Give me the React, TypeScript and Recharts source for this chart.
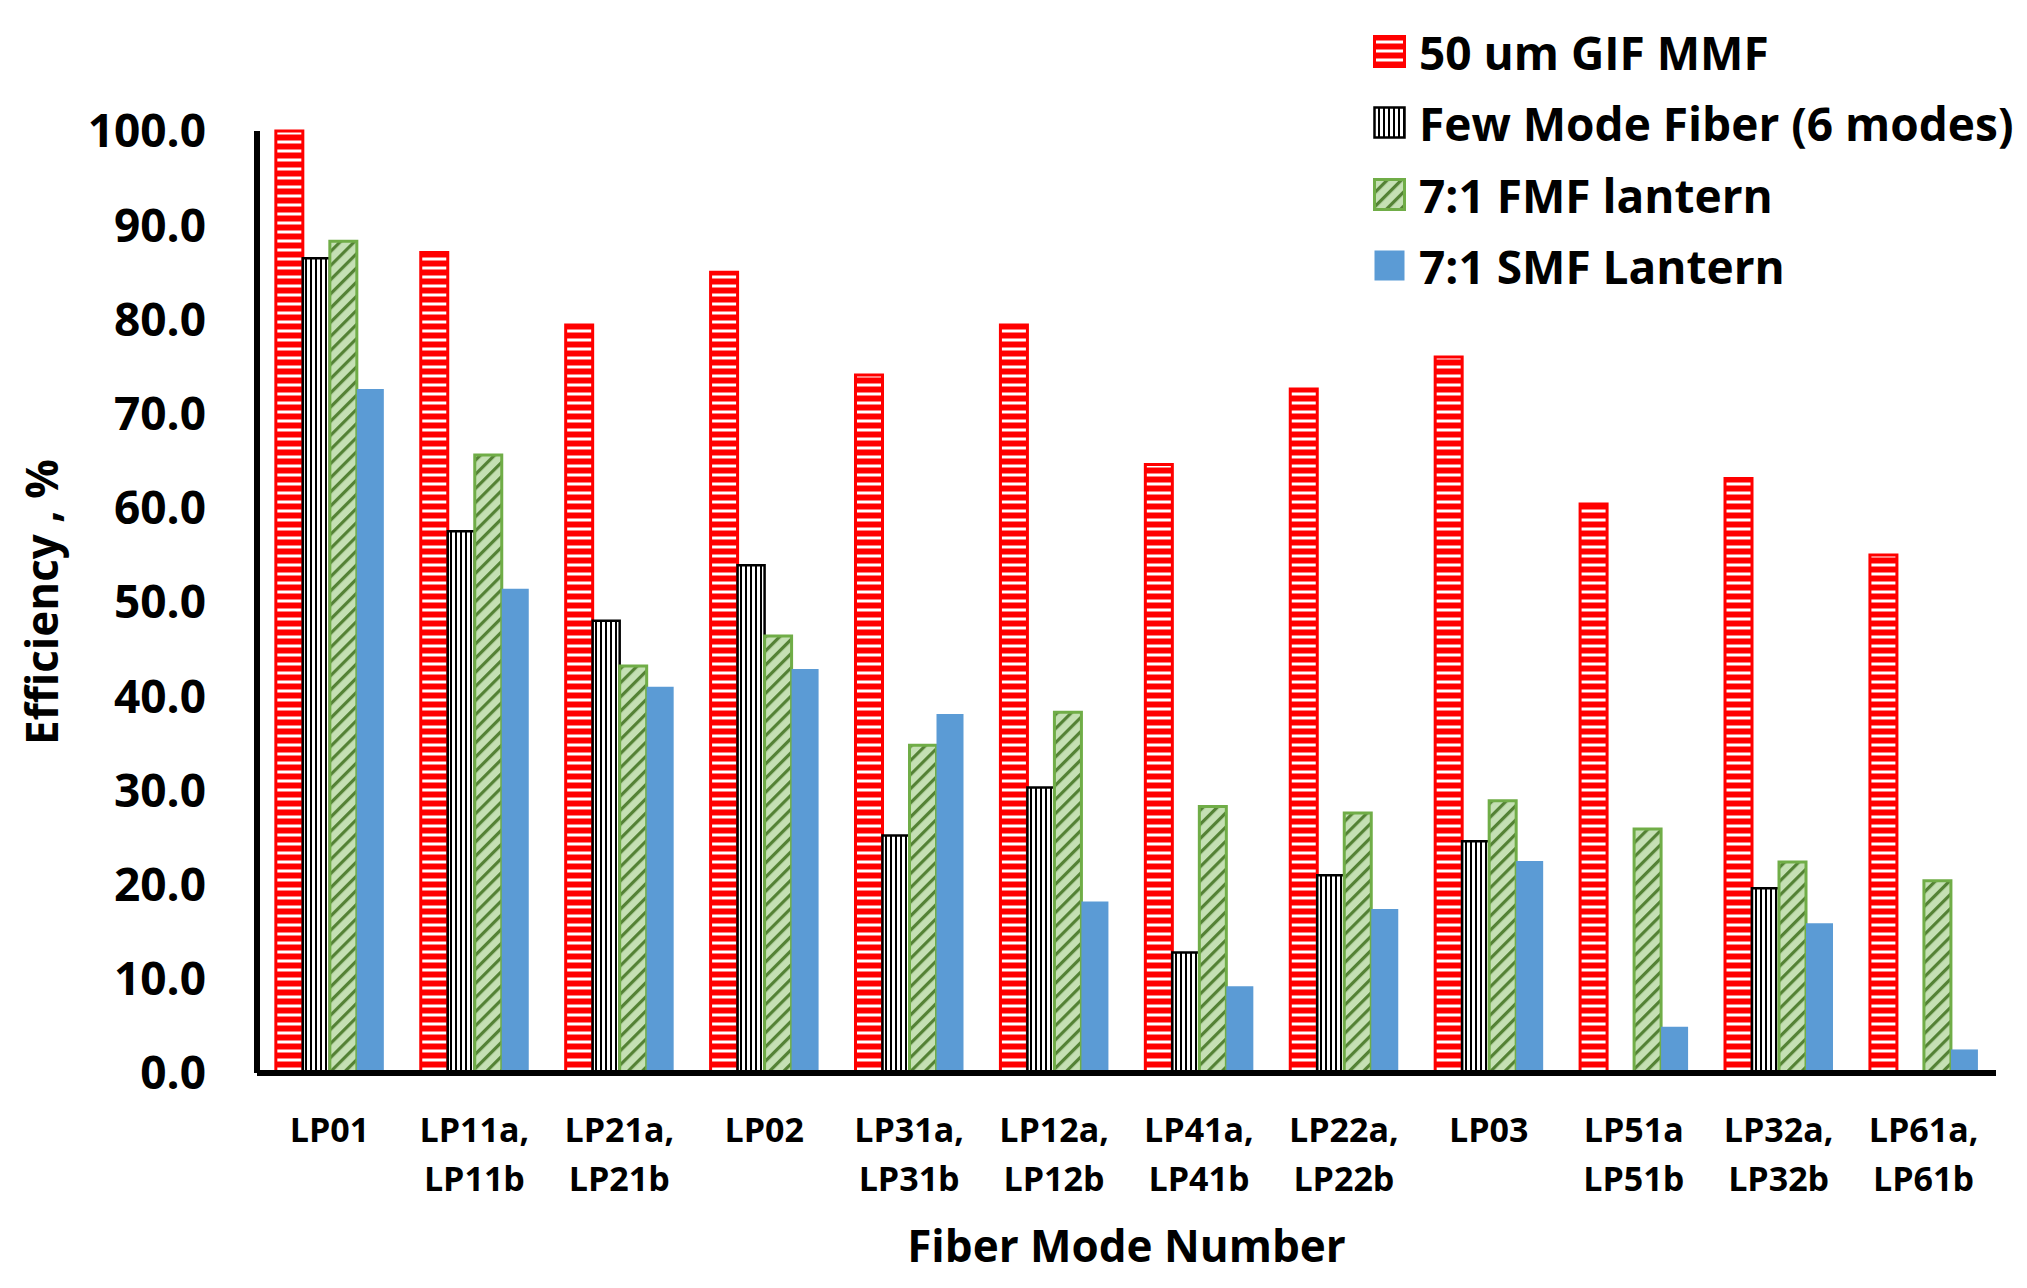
import React from "react";
import { Bar, BarChart, Legend, XAxis, YAxis } from "recharts";

// Fiber mode groups; "\n" splits the two-line tick labels.
const modes = [
  "LP01",
  "LP11a,\nLP11b",
  "LP21a,\nLP21b",
  "LP02",
  "LP31a,\nLP31b",
  "LP12a,\nLP12b",
  "LP41a,\nLP41b",
  "LP22a,\nLP22b",
  "LP03",
  "LP51a\nLP51b",
  "LP32a,\nLP32b",
  "LP61a,\nLP61b",
];

const gifMmf = [100, 87.1, 79.4, 85.0, 74.1, 79.4, 64.6, 72.6, 76.0, 60.4, 63.1, 55.0];
const fewModeFiber = [86.5, 57.5, 48.0, 53.9, 25.2, 30.3, 12.8, 21.0, 24.6, 0, 19.6, 0];
const fmfLantern = [88.3, 65.6, 43.2, 46.4, 34.8, 38.3, 28.3, 27.6, 28.9, 25.9, 22.4, 20.4];
const smfLantern = [72.6, 51.4, 41.0, 42.9, 38.1, 18.2, 9.2, 17.4, 22.5, 4.9, 15.9, 2.5];

const yTicks = [0, 10, 20, 30, 40, 50, 60, 70, 80, 90, 100];

const series = [
  { key: "gif", name: "50 um GIF MMF", fill: "url(#gif-stripes)", stroke: "#ff0000", strokeWidth: 3 },
  { key: "fmf", name: "Few Mode Fiber (6 modes)", fill: "url(#fmf-stripes)", stroke: "#000000", strokeWidth: 2.5 },
  { key: "fmfLantern", name: "7:1 FMF lantern", fill: "url(#lantern-diag)", stroke: "#70ad47", strokeWidth: 3 },
  { key: "smfLantern", name: "7:1 SMF Lantern", fill: "#5b9bd5", stroke: "none", strokeWidth: 0 },
];

const data = modes.map((mode, i) => ({
  mode,
  gif: gifMmf[i],
  fmf: fewModeFiber[i],
  fmfLantern: fmfLantern[i],
  smfLantern: smfLantern[i],
}));

const FONT = "'Open Sans', sans-serif";

function ModeTick({ x, y, payload }: any) {
  const lines = String(payload.value).split("\n");
  return (
    <text x={x} y={y} textAnchor="middle" fontSize={34} fontWeight={700} fill="#000" fontFamily={FONT}>
      {lines.map((line, i) => (
        <tspan key={i} x={x} y={y + 69 + i * 49}>
          {line}
        </tspan>
      ))}
    </text>
  );
}

function YTitle({ viewBox }: any) {
  const cx = 58;
  const cy = viewBox.y + viewBox.height / 2;
  return (
    <text
      x={cx}
      y={cy}
      transform={`rotate(-90, ${cx}, ${cy})`}
      textAnchor="middle"
      fontSize={44}
      fontWeight={700}
      fill="#000"
      fontFamily={FONT}
    >
      Efficiency , %
    </text>
  );
}

function LegendBox() {
  return (
    <div style={{ fontFamily: FONT, fontWeight: 700, fontSize: 46, color: "#000" }}>
      {series.map((s) => (
        <div key={s.key} style={{ display: "flex", alignItems: "center", height: 71.5, whiteSpace: "nowrap" }}>
          <svg width={34} height={34} style={{ marginRight: 12, flex: "none" }}>
            <rect
              x={1.5}
              y={1.5}
              width={30}
              height={30}
              fill={s.fill}
              stroke={s.stroke}
              strokeWidth={s.strokeWidth}
            />
          </svg>
          <span>{s.name}</span>
        </div>
      ))}
    </div>
  );
}

export default function App() {
  return (
    <div style={{ position: "absolute", left: 0, top: 0, width: 2027, height: 1288, background: "#fff", fontFamily: FONT }}>
      <BarChart
        width={2027}
        height={1288}
        data={data}
        margin={{ top: 131, right: 31, bottom: 0, left: 0 }}
        barCategoryGap="13%"
        barGap={0}
      >
        <defs>
          <pattern id="gif-stripes" patternUnits="userSpaceOnUse" width={9} height={9}>
            <rect width={9} height={9} fill="#ff0000" />
            <rect y={5.5} width={9} height={3} fill="#ffffff" />
          </pattern>
          <pattern id="fmf-stripes" patternUnits="userSpaceOnUse" width={5} height={5}>
            <rect width={5} height={5} fill="#ffffff" />
            <rect width={2} height={5} fill="#000000" />
          </pattern>
          <pattern id="lantern-diag" patternUnits="userSpaceOnUse" width={10} height={10} patternTransform="rotate(45)">
            <rect width={10} height={10} fill="#c5e0b4" />
            <rect width={3.2} height={10} fill="#548235" />
          </pattern>
        </defs>
        <XAxis
          dataKey="mode"
          interval={0}
          height={215}
          tickLine={false}
          tickSize={0}
          tickMargin={0}
          axisLine={{ stroke: "#000", strokeWidth: 6 }}
          tick={<ModeTick />}
          label={{
            value: "Fiber Mode Number",
            position: "insideBottom",
            offset: 26,
            fontSize: 44,
            fontWeight: 700,
            fill: "#000",
            fontFamily: FONT,
          }}
        />
        <YAxis
          width={257}
          domain={[0, 100]}
          ticks={yTicks}
          tickFormatter={(v: number) => v.toFixed(1)}
          tickLine={false}
          tickSize={0}
          tickMargin={51}
          axisLine={{ stroke: "#000", strokeWidth: 6 }}
          tick={{ fontSize: 46, fontWeight: 700, fill: "#000", fontFamily: FONT }}
          label={<YTitle />}
        />
        <Legend
          layout="vertical"
          align="center"
          verticalAlign="middle"
          wrapperStyle={{ left: 1373, top: 16, width: 654 }}
          content={<LegendBox />}
        />
        {series.map((s) => (
          <Bar
            key={s.key}
            dataKey={s.key}
            name={s.name}
            fill={s.fill}
            stroke={s.stroke}
            strokeWidth={s.strokeWidth}
            isAnimationActive={false}
          />
        ))}
      </BarChart>
    </div>
  );
}
